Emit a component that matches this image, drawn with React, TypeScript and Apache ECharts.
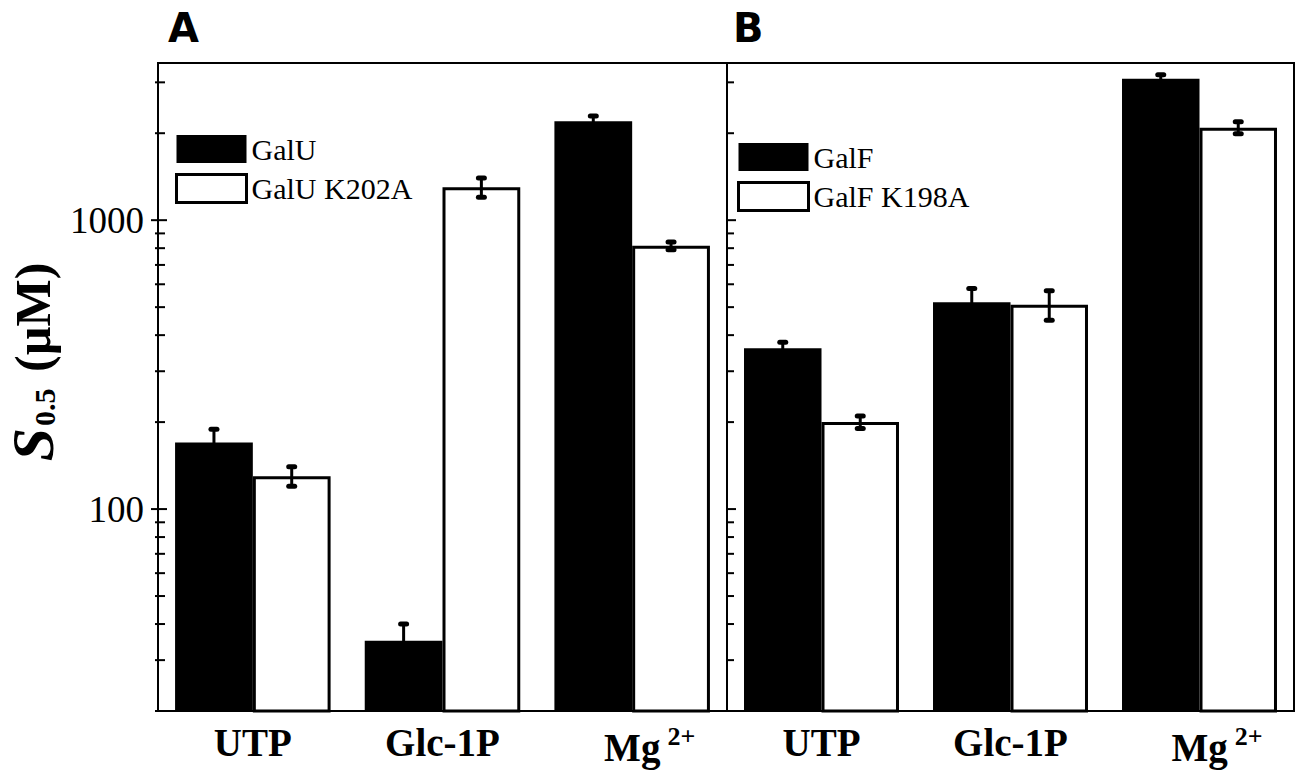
import React, { useEffect, useRef } from "react";
import * as echarts from "echarts";

const categories = ["UTP", "Glc-1P", "Mg2+"];
const galU = [170, 35, 2200];
const galUErr = [19, 5, 95];
const galUK202A = [130, 1300, 815];
const galUK202AErr = [10, 100, 25];
const galF = [360, 520, 3090];
const galFErr = [18, 60, 100];
const galFK198A = [200, 510, 2090];
const galFK198AErr = [10, 60, 100];
const yMin = 20;
const yMax = 3500;
const majorTicks = [100, 1000];
const minorTicks = [20, 30, 40, 50, 60, 70, 80, 90, 200, 300, 400, 500, 600, 700, 800, 900, 2000, 3000];

const SERIF = "Liberation Serif";
const BAR_OFFSET = 0.205;

function tickSeries(gridIdx: number, both: boolean) {
  const data = [
    ...majorTicks.map((v) => [0, v, 1]),
    ...minorTicks.map((v) => [0, v, 0]),
  ];
  return {
    type: "custom",
    xAxisIndex: gridIdx,
    yAxisIndex: gridIdx,
    silent: true,
    encode: { x: 0, y: 1 },
    data,
    z: 5,
    renderItem: (params: any, api: any) => {
      const cs = params.coordSys;
      const y = api.coord([0, api.value(1)])[1];
      const major = api.value(2) === 1;
      const left = both ? (major ? 7 : 3) : 0;
      const right = major ? 9 : 7;
      return {
        type: "line",
        shape: { x1: cs.x - left, y1: y, x2: cs.x + right, y2: y },
        style: { stroke: "#000", lineWidth: 2 },
      };
    },
  };
}

function errSeries(gridIdx: number, vals: number[], errs: number[], side: number) {
  return {
    type: "custom",
    xAxisIndex: gridIdx,
    yAxisIndex: gridIdx,
    silent: true,
    encode: { x: 0, y: 1 },
    data: vals.map((v, i) => [i, v, errs[i]]),
    z: 10,
    renderItem: (params: any, api: any) => {
      const cs = params.coordSys;
      const band = cs.width / categories.length;
      const i = api.value(0);
      const v = api.value(1);
      const e = api.value(2);
      const c = api.coord([i, v]);
      const x = c[0] + side * BAR_OFFSET * band;
      const top = api.coord([i, v + e])[1];
      const bot = api.coord([i, v - e])[1];
      const capStyle = { stroke: "#000", lineWidth: 5, lineCap: "round" };
      return {
        type: "group",
        children: [
          { type: "line", shape: { x1: x, y1: top, x2: x, y2: bot }, style: { stroke: "#000", lineWidth: 3 } },
          { type: "line", shape: { x1: x - 3, y1: top, x2: x + 3, y2: top }, style: capStyle },
          { type: "line", shape: { x1: x - 3, y1: bot, x2: x + 3, y2: bot }, style: capStyle },
        ],
      };
    },
  };
}

const blackStyle = { color: "#000" };
const whiteStyle = { color: "#fff", borderColor: "#000", borderWidth: 3 };

function barSeries(gridIdx: number, name: string, data: number[], style: any) {
  return {
    type: "bar",
    name,
    xAxisIndex: gridIdx,
    yAxisIndex: gridIdx,
    data,
    barGap: "0%",
    barCategoryGap: "18%",
    clip: true,
    itemStyle: style,
    emphasis: { disabled: true },
  };
}

function xAxis(gridIdx: number) {
  return {
    type: "category",
    gridIndex: gridIdx,
    data: categories,
    axisLine: { show: true, lineStyle: { color: "#000", width: 2 } },
    axisTick: { show: false },
    axisLabel: {
      interval: 0,
      hideOverlap: false,
      margin: 12,
      color: "#000",
      fontFamily: SERIF,
      fontWeight: "bold",
      fontSize: 39,
      formatter: (v: string) => (v === "Mg2+" ? "{m|Mg}{sup|2+}" : v),
      rich: {
        m: { fontFamily: SERIF, fontWeight: "bold", fontSize: 39, color: "#000", padding: [0, 0, 0, 35], lineHeight: 44 },
        sup: { fontFamily: SERIF, fontWeight: "bold", fontSize: 26, color: "#000", padding: [0, 0, 22, 7], verticalAlign: "top" },
      },
    },
  };
}

function yAxis(gridIdx: number, showLabels: boolean) {
  return {
    type: "log",
    logBase: 10,
    gridIndex: gridIdx,
    min: yMin,
    max: yMax,
    axisLine: { show: true, lineStyle: { color: "#000", width: 2 } },
    axisTick: { show: false },
    splitLine: { show: false },
    minorTick: { show: false },
    axisLabel: {
      show: showLabels,
      margin: 14,
      color: "#000",
      fontFamily: SERIF,
      fontSize: 37,
      formatter: (v: number) => {
        const l = Math.log10(v);
        return Math.abs(l - Math.round(l)) < 1e-6 ? String(Math.round(v)) : "";
      },
    },
  };
}

const legendText = { fontFamily: SERIF, fontSize: 30, color: "#000" };

function legend(left: number, top: number, n1: string, n2: string) {
  return {
    orient: "vertical",
    left,
    top,
    padding: 0,
    itemWidth: 70,
    itemHeight: 28,
    itemGap: 9,
    icon: "rect",
    selectedMode: false,
    data: [
      { name: n1, itemStyle: blackStyle, textStyle: legendText },
      { name: n2, itemStyle: whiteStyle, textStyle: legendText },
    ],
    textStyle: legendText,
  };
}

export default function App() {
  const ref = useRef<HTMLDivElement>(null);
  useEffect(() => {
    if (!ref.current) return;
    const chart = echarts.init(ref.current, null, { renderer: "svg" });
    chart.setOption({
      animation: false,
      backgroundColor: "#fff",
      textStyle: { fontFamily: SERIF },
      grid: [
        { left: 158, top: 63, width: 569, height: 648, show: true, borderColor: "#000", borderWidth: 2, containLabel: false },
        { left: 727, top: 63, width: 567, height: 648, show: true, borderColor: "#000", borderWidth: 2, containLabel: false },
      ],
      xAxis: [xAxis(0), xAxis(1)],
      yAxis: [yAxis(0, true), yAxis(1, false)],
      legend: [
        legend(175, 134, "GalU", "GalU K202A"),
        legend(737, 142, "GalF", "GalF K198A"),
      ],
      graphic: [
        {
          type: "text",
          left: 168,
          top: 8,
          style: { text: "A", fontFamily: "DejaVu Sans", fontWeight: "bold", fontSize: 40, fill: "#000" },
        },
        {
          type: "text",
          left: 733,
          top: 8,
          style: { text: "B", fontFamily: "DejaVu Sans", fontWeight: "bold", fontSize: 40, fill: "#000" },
        },
        {
          type: "text",
          x: 33,
          y: 362,
          rotation: Math.PI / 2,
          style: {
            text: "{s|S}{sub|0.5}{n| (µM)}",
            align: "center",
            verticalAlign: "middle",
            rich: {
              s: { fontFamily: SERIF, fontStyle: "italic", fontWeight: "bold", fontSize: 60, fill: "#000", lineHeight: 52 },
              sub: { fontFamily: SERIF, fontWeight: "bold", fontSize: 30, fill: "#000", verticalAlign: "bottom", padding: [0, 4, 0, 2] },
              n: { fontFamily: SERIF, fontWeight: "bold", fontSize: 50, fill: "#000" },
            },
          },
        },
      ],
      series: [
        barSeries(0, "GalU", galU, blackStyle),
        barSeries(0, "GalU K202A", galUK202A, whiteStyle),
        barSeries(1, "GalF", galF, blackStyle),
        barSeries(1, "GalF K198A", galFK198A, whiteStyle),
        errSeries(0, galU, galUErr, -1),
        errSeries(0, galUK202A, galUK202AErr, 1),
        errSeries(1, galF, galFErr, -1),
        errSeries(1, galFK198A, galFK198AErr, 1),
        tickSeries(0, true),
        tickSeries(1, false),
      ],
    });
    return () => chart.dispose();
  }, []);
  return (
    <div
      ref={ref}
      style={{ position: "fixed", left: 0, top: 0, width: 1302, height: 772, background: "#fff" }}
    />
  );
}
